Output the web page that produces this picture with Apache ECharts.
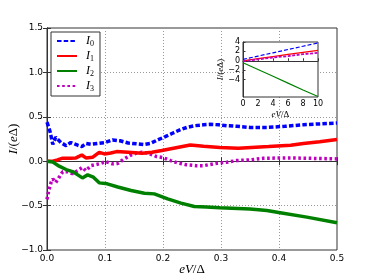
<!DOCTYPE html>
<html><head><meta charset="utf-8">
<script src="https://cdn.jsdelivr.net/npm/echarts@6/dist/echarts.min.js"></script>
<style>html,body{margin:0;padding:0;background:#fff}#c{width:374px;height:280px}</style>
</head><body><div id="c"></div>
<script>
// Main panel data
const xI0 = [0, 0.002, 0.005, 0.01, 0.015, 0.024, 0.033, 0.041, 0.053, 0.06, 0.067, 0.076, 0.087, 0.1, 0.113, 0.126, 0.14, 0.155, 0.166, 0.178, 0.192, 0.204, 0.218, 0.23, 0.241, 0.255, 0.27, 0.281, 0.296, 0.31, 0.327, 0.35, 0.38, 0.41, 0.442, 0.47, 0.5];
const yI0 = [0.44, 0.42, 0.34, 0.19, 0.27, 0.21, 0.175, 0.21, 0.18, 0.165, 0.2, 0.19, 0.2, 0.21, 0.24, 0.23, 0.205, 0.195, 0.187, 0.2, 0.243, 0.277, 0.32, 0.355, 0.38, 0.4, 0.41, 0.415, 0.41, 0.4, 0.393, 0.38, 0.38, 0.393, 0.41, 0.42, 0.43];
const xI1 = [0, 0.01, 0.018, 0.027, 0.041, 0.05, 0.06, 0.067, 0.079, 0.09, 0.099, 0.11, 0.12, 0.14, 0.164, 0.181, 0.198, 0.218, 0.247, 0.27, 0.298, 0.33, 0.382, 0.42, 0.442, 0.47, 0.5];
const yI1 = [0, 0.0, 0.015, 0.034, 0.034, 0.037, 0.07, 0.037, 0.045, 0.1, 0.082, 0.093, 0.108, 0.1, 0.09, 0.1, 0.12, 0.146, 0.183, 0.169, 0.155, 0.145, 0.165, 0.18, 0.2, 0.22, 0.245];
const xI2 = [0, 0.01, 0.021, 0.033, 0.044, 0.053, 0.061, 0.07, 0.08, 0.09, 0.104, 0.122, 0.145, 0.168, 0.185, 0.208, 0.231, 0.254, 0.275, 0.298, 0.35, 0.379, 0.402, 0.448, 0.5];
const yI2 = [0, -0.01, -0.056, -0.094, -0.117, -0.154, -0.188, -0.154, -0.18, -0.244, -0.255, -0.29, -0.33, -0.36, -0.368, -0.424, -0.472, -0.51, -0.517, -0.525, -0.537, -0.555, -0.58, -0.63, -0.694];
const xI3 = [0, 0.003, 0.007, 0.01, 0.015, 0.021, 0.027, 0.035, 0.044, 0.053, 0.061, 0.067, 0.076, 0.09, 0.101, 0.113, 0.122, 0.133, 0.145, 0.154, 0.164, 0.175, 0.189, 0.2, 0.213, 0.226, 0.24, 0.257, 0.27, 0.293, 0.31, 0.327, 0.35, 0.373, 0.42, 0.5];
const yI3 = [-0.43, -0.33, -0.24, -0.2, -0.24, -0.18, -0.12, -0.12, -0.14, -0.107, -0.07, -0.107, -0.05, -0.03, -0.005, -0.03, -0.025, 0.025, 0.07, 0.09, 0.1, 0.09, 0.052, 0.04, 0.007, -0.02, -0.04, -0.05, -0.05, -0.023, -0.012, 0.007, 0.015, 0.033, 0.037, 0.026];
// Inset data
const xIn = [0, 2, 4, 6, 8, 10];
const yIn0 = [0.3, 1.0, 1.7, 2.4, 3.1, 3.8];
const yIn1 = [0.0, 0.45, 0.9, 1.35, 1.8, 2.2];
const yIn2 = [-0.4, -1.85, -3.3, -4.75, -6.2, -7.6];
const yIn3 = [-0.1, 0.3, 0.7, 1.0, 1.4, 1.7];
// Tick settings
const mainXTicks = [0, 0.5, 0.1];
const mainYTicks = [-1, 1.5, 0.5];
const insetYLabels = [-4, -2, 0, 2, 4];
const names = ['I0', 'I1', 'I2', 'I3'];
const colors = ['#0000ff', '#ff0000', '#008000', '#bf00bf'];

const pair = (xs, ys) => xs.map((x, i) => [x, ys[i]]);
const minus = s => String(s).replace('-', '\u2212');
const tickFont = {fontFamily: 'DejaVu Sans', fontSize: 9, color: '#000'};
const math = {fontFamily: 'Liberation Serif', fontStyle: 'italic', fontSize: 13, color: '#000'};
const frame = '#333';

const chart = echarts.init(document.getElementById('c'), null, {renderer: 'canvas'});
const styles = [
  {width: 3.5, type: [4.5, 2.2]},
  {width: 3.5, type: 'solid'},
  {width: 3.5, type: 'solid'},
  {width: 3.5, type: [2.6, 2.6]}
];
const insetStyles = [
  {width: 1.2, type: [4, 2]},
  {width: 1.2, type: 'solid'},
  {width: 1.2, type: 'solid'},
  {width: 1.8, type: [3, 1.5]}
];
const mainData = [pair(xI0, yI0), pair(xI1, yI1), pair(xI2, yI2), pair(xI3, yI3)];
const insetData = [pair(xIn, yIn0), pair(xIn, yIn1), pair(xIn, yIn2), pair(xIn, yIn3)];

const series = [];
names.forEach((n, i) => {
  series.push({name: n, type: 'line', xAxisIndex: 0, yAxisIndex: 0, data: mainData[i], symbol: 'none',
    lineStyle: {color: colors[i], width: styles[i].width, type: styles[i].type, cap: 'butt'},
    itemStyle: {color: colors[i]}, z: [5, 3, 4, 2][i], animation: false});
});
names.forEach((n, i) => {
  series.push({name: n, type: 'line', xAxisIndex: 2, yAxisIndex: 2, data: insetData[i], symbol: 'none',
    lineStyle: {color: colors[i], width: insetStyles[i].width, type: insetStyles[i].type, cap: 'butt'},
    itemStyle: {color: colors[i]}, z: 20, animation: false});
});

const axisLine = {show: true, lineStyle: {color: frame, width: 1}};
chart.setOption({
  animation: false,
  backgroundColor: '#fff',
  grid: [
    {left: 47, top: 28, right: 37, bottom: 30, show: true, borderColor: frame, borderWidth: 1, z: 0, outerBoundsMode: 'none', containLabel: false},
    {left: 243, top: 42, right: 56, bottom: 183, show: true, backgroundColor: '#fff', borderColor: frame, borderWidth: 1, z: 10, outerBoundsMode: 'none', containLabel: false}
  ],
  legend: {
    left: 51, top: 32, orient: 'vertical', itemWidth: 20, itemHeight: 8, itemGap: 2,
    padding: [3, 6, 3, 5], borderColor: frame, borderWidth: 1, backgroundColor: '#fff', z: 30,
    data: names,
    itemStyle: {opacity: 0, borderWidth: 0},
    formatter: n => '{i|I}{s|' + n.slice(1) + '}',
    textStyle: {padding: [0, 0, 0, 4], rich: {i: {fontFamily: 'Liberation Serif', fontStyle: 'italic', fontSize: 12, color: '#000', lineHeight: 14},
      s: {fontFamily: 'Liberation Serif', fontSize: 8, color: '#000', padding: [6, 0, 0, 0]}}}
  },
  xAxis: [
    {gridIndex: 0, type: 'value', min: mainXTicks[0], max: mainXTicks[1], interval: mainXTicks[2],
      axisLine, axisTick: {inside: true, length: 4, lineStyle: {color: frame}},
      axisLabel: {...tickFont, margin: 4, formatter: v => v.toFixed(1)},
      splitLine: {show: true, lineStyle: {color: '#999', type: [1, 2], width: 1}},
      name: '{i|eV}/Δ', nameLocation: 'middle', nameGap: 13, nameMoveOverlap: false,
      nameTextStyle: {rich: {i: math}, fontFamily: 'Liberation Serif', fontSize: 13, color: '#000'}},
    {gridIndex: 0, type: 'value', position: 'top', min: mainXTicks[0], max: mainXTicks[1], interval: mainXTicks[2],
      axisLine, axisTick: {inside: true, length: 4, lineStyle: {color: frame}}, axisLabel: {show: false}, splitLine: {show: false}},
    {gridIndex: 1, type: 'value', min: 0, max: 10, interval: 2, z: 12,
      axisLine, axisTick: {inside: true, length: 2.5, lineStyle: {color: frame}},
      axisLabel: {fontFamily: 'DejaVu Sans', fontSize: 8, color: '#000', margin: 3},
      splitLine: {show: false},
      name: '{i|eV}/Δ', nameLocation: 'middle', nameGap: 13, nameMoveOverlap: false,
      nameTextStyle: {rich: {i: {fontFamily: 'Liberation Serif', fontStyle: 'italic', fontSize: 9, color: '#000'}}, fontFamily: 'Liberation Serif', fontSize: 9, color: '#000'}}
  ],
  yAxis: [
    {gridIndex: 0, type: 'value', min: mainYTicks[0], max: mainYTicks[1], interval: mainYTicks[2],
      axisLine, axisTick: {inside: true, length: 4, lineStyle: {color: frame}},
      axisLabel: {...tickFont, margin: 4, formatter: v => minus(v.toFixed(1))},
      splitLine: {show: true, lineStyle: {color: '#999', type: [1, 2], width: 1}},
      name: '{i|I}/({i|e}Δ)', nameLocation: 'middle', nameGap: 27, nameMoveOverlap: false,
      nameTextStyle: {rich: {i: math}, fontFamily: 'Liberation Serif', fontSize: 13, color: '#000'}},
    {gridIndex: 0, type: 'value', position: 'right', min: mainYTicks[0], max: mainYTicks[1], interval: mainYTicks[2],
      axisLine, axisTick: {inside: true, length: 4, lineStyle: {color: frame}}, axisLabel: {show: false}, splitLine: {show: false}},
    {gridIndex: 1, type: 'value', min: -7.7, max: 4, z: 12,
      axisLine, axisTick: {inside: true, length: 2.5, lineStyle: {color: frame}, customValues: insetYLabels},
      axisLabel: {fontFamily: 'DejaVu Sans', fontSize: 8, color: '#000', margin: 3, customValues: insetYLabels, formatter: v => minus(v)},
      splitLine: {show: false},
      name: '{i|I}/({i|e}Δ)', nameLocation: 'middle', nameGap: 18, nameMoveOverlap: false,
      nameTextStyle: {rich: {i: {fontFamily: 'Liberation Serif', fontStyle: 'italic', fontSize: 9, color: '#000'}}, fontFamily: 'Liberation Serif', fontSize: 9, color: '#000'}}
  ],
  series
});
</script></body></html>
